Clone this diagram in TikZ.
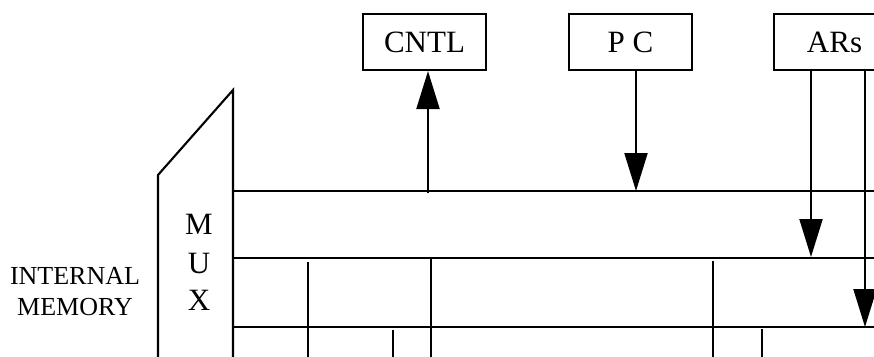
\documentclass[tikz,border=0pt]{standalone}
\usepackage{fontspec}
\setmainfont{Liberation Serif}
\usetikzlibrary{arrows.meta}
\begin{document}
\begin{tikzpicture}[x=1pt,y=-1pt,
  ln/.style={line width=2.1pt},
  regbox/.style={draw,line width=2.1pt,minimum width=123pt,minimum height=56pt,inner sep=0pt,font=\fontsize{31}{35}\selectfont},
  arr/.style={line width=2.1pt,-{Triangle[length=38pt,width=23pt]}},
  lbl/.style={inner sep=0pt,font=\fontsize{31}{35}\selectfont}]
\useasboundingbox (0,0) rectangle (874,356);
\clip (0,0) rectangle (874,356);
% register boxes
\node[regbox] (cntl) at (424.5,42) {CNTL};
\node[regbox] (pc) at (630.5,42) {P C};
\node[regbox, minimum width=121pt] (ars) at (834.5,42) {ARs};
% mux
\coordinate (mbl) at (158,360);
\coordinate (mtl) at (158,175);
\coordinate (mtr) at (233,90);
\coordinate (mbr) at (233,360);
\draw[ln, line join=miter] (mbl) -- (mtl) -- (mtr) -- (mbr);
\node[lbl] (m) at (199,224) {M};
\node[lbl] (u) at (199,263) {U};
\node[lbl] (x) at (199,300) {X};
\node[inner sep=0pt,align=center,font=\fontsize{26}{31}\selectfont] (im) at (75,292) {INTERNAL\\MEMORY};
% buses
\coordinate (b1l) at (233,191); \coordinate (b1r) at (880,191);
\coordinate (b2l) at (233,258); \coordinate (b2r) at (880,258);
\coordinate (b3l) at (233,327); \coordinate (b3r) at (880,327);
\draw[ln] (b1l) -- (b1r);
\draw[ln] (b2l) -- (b2r);
\draw[ln] (b3l) -- (b3r);
% arrows
\coordinate (cb) at (428,193);
\coordinate (pb) at (636,191);
\coordinate (a1) at (811,257);
\coordinate (a2) at (865,327);
\draw[arr] (cb) -- (cb |- cntl.south);
\draw[arr] (pb |- pc.south) -- (pb);
\draw[arr] (a1 |- ars.south) -- (a1);
\draw[arr] (a2 |- ars.south) -- (a2);
% vertical lines
\coordinate (v1t) at (308,262); \coordinate (v1b) at (308,360);
\coordinate (v2t) at (431,258); \coordinate (v2b) at (431,360);
\coordinate (v3t) at (393,330); \coordinate (v3b) at (393,360);
\coordinate (v4t) at (713,261); \coordinate (v4b) at (713,360);
\coordinate (v5t) at (762,329); \coordinate (v5b) at (762,360);
\draw[ln] (v1t) -- (v1b);
\draw[ln] (v2t) -- (v2b);
\draw[ln] (v3t) -- (v3b);
\draw[ln] (v4t) -- (v4b);
\draw[ln] (v5t) -- (v5b);
\end{tikzpicture}
\end{document}
